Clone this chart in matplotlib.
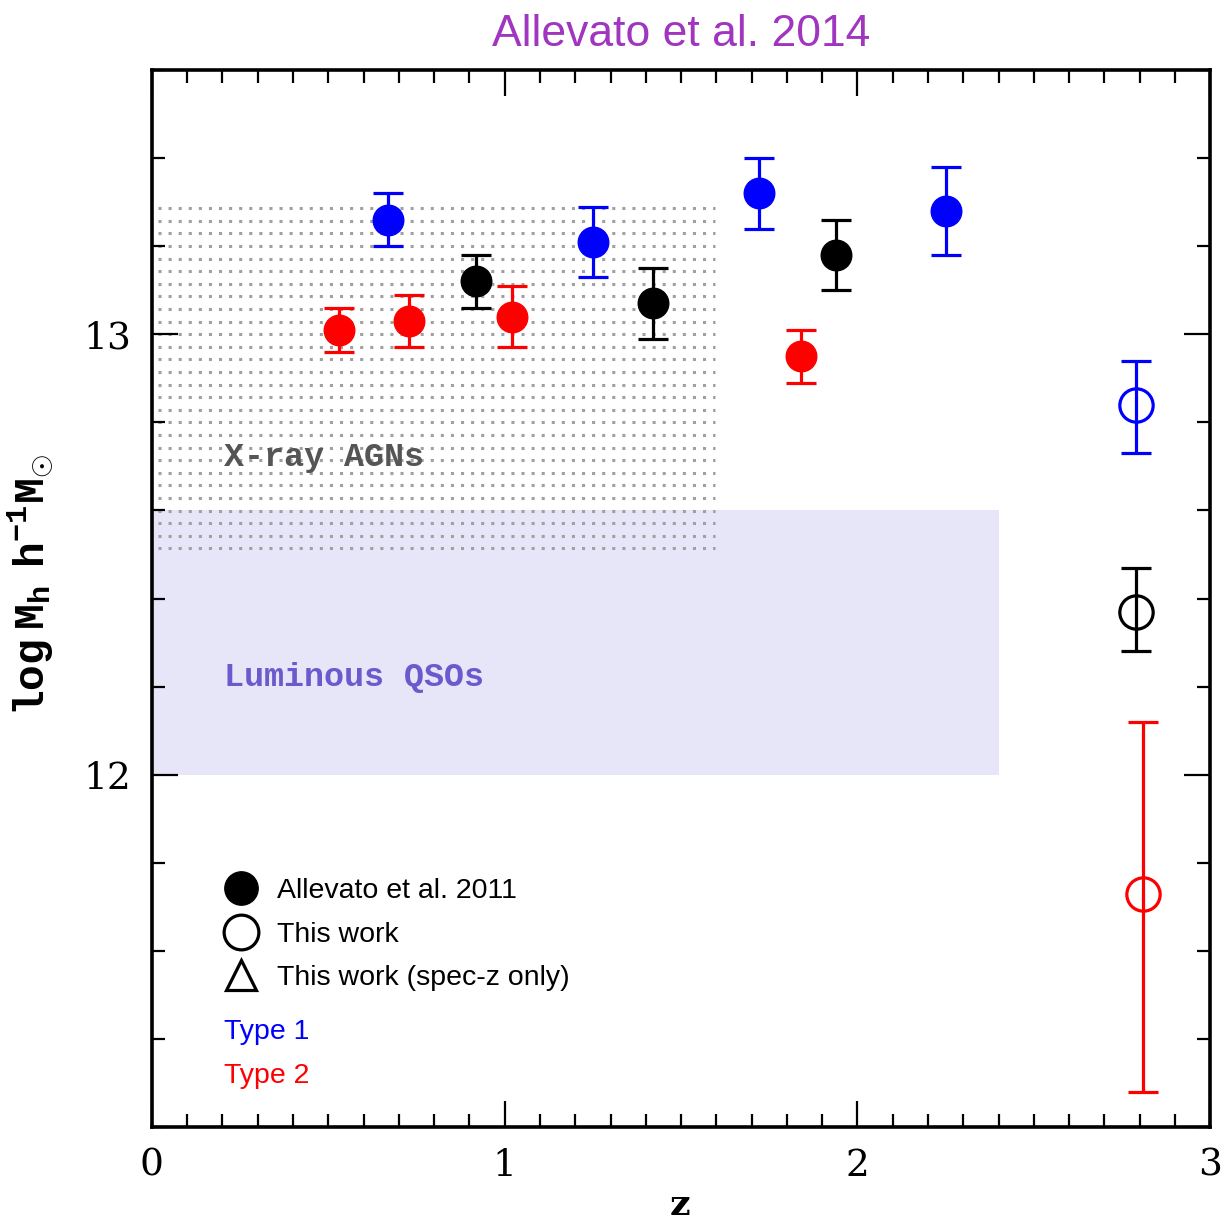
import matplotlib
matplotlib.use("Agg")
import matplotlib.pyplot as plt
import numpy as np

# Allevato et al. 2011 (filled), Type 1
t1_z = [0.67, 1.25, 1.72, 2.25]
t1_m = [13.26, 13.21, 13.32, 13.28]
t1_lo = [13.20, 13.13, 13.24, 13.18]
t1_hi = [13.32, 13.29, 13.40, 13.38]

# Allevato et al. 2011, full sample (black)
all_z = [0.92, 1.42, 1.94]
all_m = [13.12, 13.07, 13.18]
all_lo = [13.06, 12.99, 13.10]
all_hi = [13.18, 13.15, 13.26]

# Allevato et al. 2011, Type 2
t2_z = [0.53, 0.73, 1.02, 1.84]
t2_m = [13.01, 13.03, 13.04, 12.95]
t2_lo = [12.96, 12.97, 12.97, 12.89]
t2_hi = [13.06, 13.09, 13.11, 13.01]

# This work (open circles): type 1, all, type 2
tw_z = [2.79, 2.79, 2.81]
tw_m = [12.84, 12.37, 11.73]
tw_lo = [12.73, 12.28, 11.28]
tw_hi = [12.94, 12.47, 12.12]
tw_col = ["#0000ff", "black", "#ff0000"]

# shaded regions: x0, x1, y0, y1
qso_band = [0.0, 2.4, 12.0, 12.6]
agn_band = [0.0, 1.6, 12.5, 13.3]

plt.rcParams["mathtext.fontset"] = "custom"
plt.rcParams["mathtext.rm"] = "Liberation Mono:bold"
plt.rcParams["mathtext.it"] = "Liberation Mono:bold"
plt.rcParams["mathtext.bf"] = "Liberation Mono:bold"

fig = plt.figure(figsize=(12.25, 12.32), dpi=100)
ax = fig.add_axes([0.124, 0.0852, 0.864, 0.858])

# luminous QSO band
ax.fill_between([qso_band[0], qso_band[1]], qso_band[2], qso_band[3],
                color="#e6e6f8", lw=0, zorder=0)

# dotted X-ray AGN band
rows = np.linspace(agn_band[2] + 0.014, agn_band[3] - 0.014, 28)
ax.hlines(rows, agn_band[0] + 0.017, agn_band[1] - 0.005, colors="#a0a0a0",
          linestyles=(0, (1, 2.3)), lw=2.2, zorder=1)

def err(m, lo, hi):
    m, lo, hi = np.array(m), np.array(lo), np.array(hi)
    return [m - lo, hi - m]

ebk = dict(fmt="o", ms=22, capsize=11, elinewidth=2.3, capthick=2.3, zorder=3)
ax.errorbar(t1_z, t1_m, yerr=err(t1_m, t1_lo, t1_hi), color="#0000ff", **ebk)
ax.errorbar(all_z, all_m, yerr=err(all_m, all_lo, all_hi), color="black", **ebk)
ax.errorbar(t2_z, t2_m, yerr=err(t2_m, t2_lo, t2_hi), color="#ff0000", **ebk)

for z, m, lo, hi, c in zip(tw_z, tw_m, tw_lo, tw_hi, tw_col):
    ax.errorbar([z], [m], yerr=err([m], [lo], [hi]), fmt="o", ms=24,
                mfc="none", mec=c, mew=2.3, color=c, capsize=11,
                elinewidth=2.3, capthick=2.3, zorder=3)

ax.set_xlim(0, 3)
ax.set_ylim(11.2, 13.6)
ax.set_xticks([0, 1, 2, 3])
ax.set_xticks(np.arange(0, 3.01, 0.1), minor=True)
ax.set_yticks([12, 13])
ax.set_yticks(np.arange(11.2, 13.61, 0.2), minor=True)
ax.tick_params(which="both", direction="in", top=True, right=True, width=1.6)
ax.tick_params(which="major", length=19, pad=15)
ax.tick_params(which="minor", length=9.5)
for lab in ax.get_xticklabels() + ax.get_yticklabels():
    lab.set_fontfamily("DejaVu Serif")
    lab.set_fontsize(27)
for s in ax.spines.values():
    s.set_linewidth(2.6)

ax.set_xlabel("z", fontfamily="DejaVu Serif", fontweight="bold",
              fontsize=26)
ax.xaxis.set_label_coords(0.499, -0.058)
ax.set_ylabel(r"$\mathrm{log\ M_h\ \ h^{-1}M_{\odot}}$", fontsize=31)
ax.yaxis.set_label_coords(-0.09, 0.513)

ax.set_title("Allevato et al. 2014", color="#a035c0", fontsize=32,
             fontfamily="Liberation Sans", pad=17)

ax.text(0.204, 12.72, "X-ray AGNs", fontfamily="Liberation Mono",
        fontweight="bold", fontsize=24, color="#555555", va="center")
ax.text(0.204, 12.22, "Luminous QSOs", fontfamily="Liberation Mono",
        fontweight="bold", fontsize=24, color="#6a5acd", va="center")

# legend
tr = ax.transAxes
ax.plot([0.0841], [0.2261], "o", ms=24, color="black", transform=tr)
ax.plot([0.0841], [0.1845], "o", ms=25, mfc="none", mec="black", mew=2.3,
        transform=tr)
ax.plot([0.0841], [0.1438], "^", ms=22, mfc="none", mec="black", mew=2.3,
        transform=tr)
leg_txt = ["Allevato et al. 2011", "This work", "This work (spec-z only)"]
for yy, t in zip([0.2261, 0.1845, 0.1438], leg_txt):
    ax.text(0.118, yy - 0.003, t, transform=tr, fontsize=20.5,
            fontfamily="Liberation Sans", va="center")
ax.text(0.068, 0.0897, "Type 1", transform=tr, fontsize=20.5,
        fontfamily="Liberation Sans", va="center", color="#0000ff")
ax.text(0.068, 0.0481, "Type 2", transform=tr, fontsize=20.5,
        fontfamily="Liberation Sans", va="center", color="#ff0000")

fig.savefig("out.png", dpi=100)
